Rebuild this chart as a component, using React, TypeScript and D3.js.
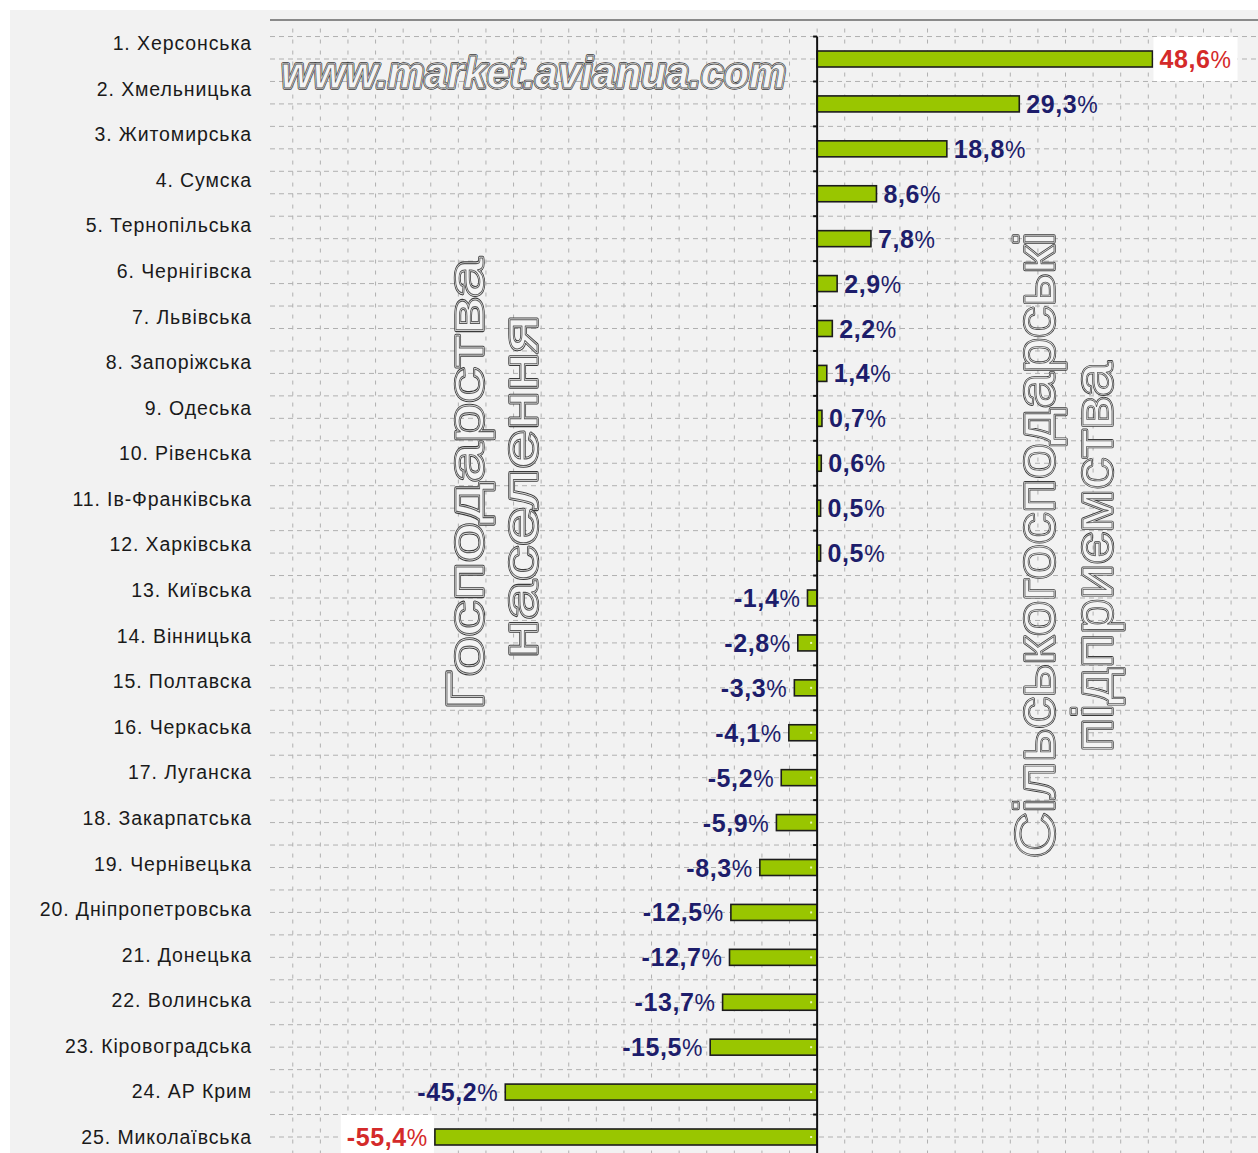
import { useEffect, useRef } from 'react'
import * as d3 from 'd3'

// Regions (ordered as in the ranking) and their change, %
const regions = [
  'Херсонська', 'Хмельницька', 'Житомирська', 'Сумска', 'Тернопільська',
  'Чернігівска', 'Львівська', 'Запоріжська', 'Одеська', 'Рівенська',
  'Ів-Франківська', 'Харківська', 'Київська', 'Вінницька', 'Полтавска',
  'Черкаська', 'Луганска', 'Закарпатська', 'Чернівецька', 'Дніпропетровська',
  'Донецька', 'Волинська', 'Кіровоградська', 'АР Крим', 'Миколаївська',
]
const values = [
  48.6, 29.3, 18.8, 8.6, 7.8, 2.9, 2.2, 1.4, 0.7, 0.6, 0.5, 0.5,
  -1.4, -2.8, -3.3, -4.1, -5.2, -5.9, -8.3, -12.5, -12.7, -13.7, -15.5, -45.2, -55.4,
]
const leftTitle = ['Господарства', 'населення']
const rightTitle = ['Сільськогосподарські', 'підприємства']
const watermark = 'www.market.avianua.com'

const W = 1258
const H = 1153
const FONT = 'Arial, "Liberation Sans", sans-serif'

export default function App() {
  const svgRef = useRef<SVGSVGElement>(null)

  useEffect(() => {
    if (!svgRef.current) return
    const svg = d3.select(svgRef.current)
    svg.selectAll('*').remove()

    const plot = { left: 270, right: W, top: 20, bottom: H }

    const x = d3.scaleLinear().domain([-79.3, 63.9]).range([plot.left, plot.right])
    const yBar = d3.scalePoint<string>().domain(regions).range([59, 1137])
    const yLabel = d3.scalePoint<string>().domain(regions).range([43, 1137])
    const step = yBar.step()
    const barH = 16

    // page background
    svg.append('rect').attr('width', W).attr('height', H).attr('fill', '#ffffff')
    svg.append('rect').attr('x', 10).attr('y', 10).attr('width', W - 10).attr('height', H - 10)
      .attr('fill', '#f2f2f2')

    // grid
    const grid = svg.append('g')
      .attr('stroke', '#b0b0b0')
      .attr('stroke-width', 1)
      .attr('stroke-dasharray', '5,4')
    const y0 = (yBar(regions[0]) as number) - step / 2
    const hLines = d3.range(0, regions.length * 2 + 1).map(k => y0 + k * step / 2)
    grid.selectAll('line.h').data(hLines).enter().append('line')
      .attr('x1', plot.left).attr('x2', plot.right)
      .attr('y1', d => d).attr('y2', d => d)
    const vLines = d3.range(-80, 66, 4).map(v => x(v)).filter(px => px >= plot.left && px <= plot.right)
    grid.selectAll('line.v').data(vLines).enter().append('line')
      .attr('x1', d => d).attr('x2', d => d)
      .attr('y1', y0 - 8).attr('y2', plot.bottom)
      .attr('stroke-dasharray', '4,7')

    // top frame line
    svg.append('line')
      .attr('x1', plot.left).attr('x2', plot.right)
      .attr('y1', plot.top).attr('y2', plot.top)
      .attr('stroke', '#8a8a8a').attr('stroke-width', 2)

    // outlined (hollow) text helper
    const hollow = (
      g: d3.Selection<SVGGElement, unknown, null, undefined>,
      txt: string, size: number, len: number, italic = false,
    ) => {
      const layers = [
        { stroke: '#3a3a3a', sw: 3.4, fill: 'none' },
        { stroke: '#f4f4f4', sw: 1.8, fill: 'none' },
        { stroke: '#5a5a5a', sw: 0.8, fill: '#f4f4f4' },
      ]
      layers.forEach(l => {
        g.append('text')
          .attr('font-family', FONT)
          .attr('font-size', size)
          .attr('font-weight', italic ? 'bold' : 'normal')
          .attr('font-style', italic ? 'italic' : 'normal')
          .attr('textLength', len)
          .attr('lengthAdjust', 'spacingAndGlyphs')
          .attr('fill', l.fill)
          .attr('stroke', l.stroke)
          .attr('stroke-width', l.sw)
          .attr('stroke-linejoin', 'round')
          .text(txt)
      })
    }

    // watermark
    hollow(svg.append('g').attr('transform', 'translate(281,88)'), watermark, 44, 505, true)

    // vertical captions
    hollow(svg.append('g').attr('transform', 'translate(483,710) rotate(-90)'), leftTitle[0], 52, 452)
    hollow(svg.append('g').attr('transform', 'translate(537,658) rotate(-90)'), leftTitle[1], 52, 343)
    hollow(svg.append('g').attr('transform', 'translate(1054,858) rotate(-90)'), rightTitle[0], 56, 626)
    hollow(svg.append('g').attr('transform', 'translate(1112,752) rotate(-90)'), rightTitle[1], 56, 390)

    // row labels
    svg.append('g').selectAll('text').data(regions).enter().append('text')
      .attr('x', 252)
      .attr('y', d => (yLabel(d) as number) + 7)
      .attr('text-anchor', 'end')
      .attr('font-family', FONT)
      .attr('font-size', 19.5)
      .attr('letter-spacing', 0.9)
      .attr('fill', '#1a1a1a')
      .text((d, i) => `${i + 1}. ${d}`)

    // bars
    const bars = svg.append('g')
    regions.forEach((r, i) => {
      const v = values[i]
      const cy = yBar(r) as number
      bars.append('rect')
        .attr('x', Math.min(x(0), x(v)))
        .attr('y', cy - barH / 2)
        .attr('width', Math.abs(x(v) - x(0)))
        .attr('height', barH)
        .attr('fill', '#99c600')
        .attr('stroke', '#1c1c1c')
        .attr('stroke-width', 1.6)
      if (v < 0 && x(0) - x(v) > 10) {
        bars.append('rect')
          .attr('x', x(0) - 7).attr('y', cy - 1)
          .attr('width', 2).attr('height', 2)
          .attr('fill', '#eaf7b8')
      }
    })

    // zero axis
    svg.append('line')
      .attr('x1', x(0)).attr('x2', x(0))
      .attr('y1', y0).attr('y2', plot.bottom)
      .attr('stroke', '#111').attr('stroke-width', 2)
    svg.append('g').selectAll('line').data(d3.range(0, regions.length + 1)).enter().append('line')
      .attr('x1', x(0) - 4).attr('x2', x(0))
      .attr('y1', k => y0 + k * step).attr('y2', k => y0 + k * step)
      .attr('stroke', '#111').attr('stroke-width', 2)

    // value labels
    const maxV = d3.max(values) as number
    const minV = d3.min(values) as number
    const labels = svg.append('g')
    regions.forEach((r, i) => {
      const v = values[i]
      const cy = yBar(r) as number
      const isExt = v === maxV || v === minV
      const color = isExt ? '#d42a2a' : '#1d1d6b'
      const bg = labels.append('g')
      const t = labels.append('text')
        .attr('x', v >= 0 ? x(v) + 7 : x(v) - 7)
        .attr('y', cy + 9)
        .attr('text-anchor', v >= 0 ? 'start' : 'end')
        .attr('font-family', FONT)
        .attr('font-size', 25)
        .attr('letter-spacing', 0.6)
        .attr('fill', color)
      t.append('tspan').attr('font-weight', 'bold').text(v.toFixed(1).replace('.', ','))
      t.append('tspan').attr('font-weight', 'normal').attr('font-size', 23).text('%')
      if (isExt) {
        const b = (t.node() as SVGTextElement).getBBox()
        bg.append('rect')
          .attr('x', b.x - 6).attr('y', b.y - 8)
          .attr('width', b.width + 12).attr('height', b.height + 16)
          .attr('fill', '#ffffff')
      }
    })
  }, [])

  return (
    <svg
      ref={svgRef}
      width={W}
      height={H}
      viewBox={`0 0 ${W} ${H}`}
      style={{ position: 'absolute', left: 0, top: 0, display: 'block' }}
    />
  )
}
